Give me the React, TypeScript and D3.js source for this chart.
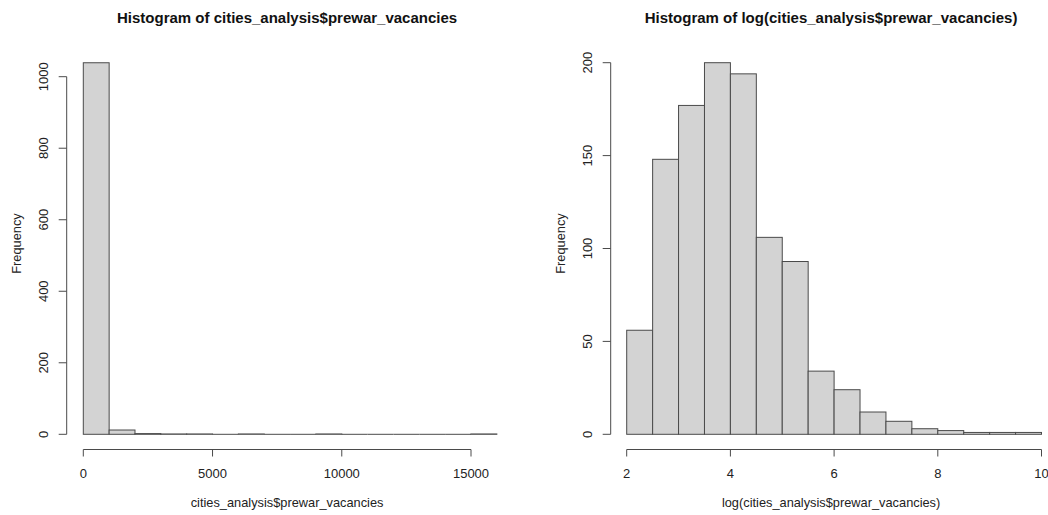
import * as d3 from "d3";
import { useEffect } from "react";

// raw vacancies, bins of 1000
const rawBreaks = d3.range(0, 16001, 1000);
const rawCounts = [1039, 12, 2, 1, 1, 0, 1, 0, 0, 1, 0, 0, 0, 0, 0, 1];
const rawXTicks = [0, 5000, 10000, 15000];
const rawYTicks = [0, 200, 400, 600, 800, 1000];

// log(vacancies), bins of 0.5
const logBreaks = d3.range(2, 10.01, 0.5);
const logCounts = [56, 148, 177, 200, 194, 106, 93, 34, 24, 12, 7, 3, 2, 1, 1, 1];
const logXTicks = [2, 4, 6, 8, 10];
const logYTicks = [0, 50, 100, 150, 200];

const FONT = "'Liberation Sans', Arial, Helvetica, sans-serif";
const LINE = "#4a4a4a";

type HistProps = {
  breaks: number[];
  counts: number[];
  xTicks: number[];
  yTicks: number[];
  xRange: [number, number];
  yRange: [number, number];
  yAxisX: number;
  title: string;
  xLabel: string;
};

const Histogram = (p: HistProps) => {
  const x = d3
    .scaleLinear()
    .domain([p.xTicks[0], p.xTicks[p.xTicks.length - 1]])
    .range(p.xRange);
  const y = d3
    .scaleLinear()
    .domain([p.yTicks[0], p.yTicks[p.yTicks.length - 1]])
    .range(p.yRange);

  const axisY = 449.5; // bottom edge of plot region
  const centerX = (x(p.breaks[0]) + x(p.breaks[p.breaks.length - 1])) / 2 - 3;

  const bins = p.counts.map((c, i) => ({ x0: p.breaks[i], x1: p.breaks[i + 1], n: c }));

  return (
    <g>
      {/* bars (empty bins still leave their outline on the baseline) */}
      {bins.map((b, i) =>
        b.n > 0 ? (
          <rect
            key={i}
            x={x(b.x0)}
            y={y(b.n)}
            width={x(b.x1) - x(b.x0)}
            height={y(0) - y(b.n)}
            fill="#d3d3d3"
            stroke={LINE}
            strokeWidth={1}
          />
        ) : (
          <line key={i} x1={x(b.x0)} x2={x(b.x1)} y1={y(0)} y2={y(0)} stroke={LINE} strokeWidth={1} />
        )
      )}

      {/* x axis */}
      <line x1={x(p.xTicks[0])} x2={x(p.xTicks[p.xTicks.length - 1])} y1={axisY} y2={axisY} stroke={LINE} />
      {p.xTicks.map((t) => (
        <g key={t}>
          <line x1={x(t)} x2={x(t)} y1={axisY} y2={axisY + 7} stroke={LINE} />
          <text x={x(t)} y={478} textAnchor="middle" fontSize={13} fill="#222" fontFamily={FONT}>
            {t}
          </text>
        </g>
      ))}
      <text x={centerX} y={507} textAnchor="middle" fontSize={12.8} fill="#222" fontFamily={FONT}>
        {p.xLabel}
      </text>

      {/* y axis */}
      <line x1={p.yAxisX} x2={p.yAxisX} y1={y(p.yTicks[0])} y2={y(p.yTicks[p.yTicks.length - 1])} stroke={LINE} />
      {p.yTicks.map((t) => (
        <g key={t}>
          <line x1={p.yAxisX - 8} x2={p.yAxisX} y1={y(t)} y2={y(t)} stroke={LINE} />
          <text
            transform={`translate(${p.yAxisX - 19},${y(t)}) rotate(-90)`}
            textAnchor="middle"
            fontSize={13}
            fill="#222"
            fontFamily={FONT}
          >
            {t}
          </text>
        </g>
      ))}
      <text
        transform={`translate(${p.yAxisX - 46},243.5) rotate(-90)`}
        textAnchor="middle"
        fontSize={12.8}
        fill="#222"
        fontFamily={FONT}
      >
        Frequency
      </text>

      {/* title */}
      <text x={centerX} y={23} textAnchor="middle" fontSize={15} fontWeight="bold" fill="#111" fontFamily={FONT}>
        {p.title}
      </text>
    </g>
  );
};

export default function App() {
  useEffect(() => {
    document.body.style.margin = "0";
  }, []);

  return (
    <svg width={1048} height={515} style={{ display: "block", background: "#fff" }}>
      <Histogram
        breaks={rawBreaks}
        counts={rawCounts}
        xTicks={rawXTicks}
        yTicks={rawYTicks}
        xRange={[83.3, 471]}
        yRange={[434.3, 76.7]}
        yAxisX={66.7}
        title="Histogram of cities_analysis$prewar_vacancies"
        xLabel="cities_analysis$prewar_vacancies"
      />
      <Histogram
        breaks={logBreaks}
        counts={logCounts}
        xTicks={logXTicks}
        yTicks={logYTicks}
        xRange={[626.7, 1041.5]}
        yRange={[434.3, 62.7]}
        yAxisX={610.7}
        title="Histogram of log(cities_analysis$prewar_vacancies)"
        xLabel="log(cities_analysis$prewar_vacancies)"
      />
    </svg>
  );
}
